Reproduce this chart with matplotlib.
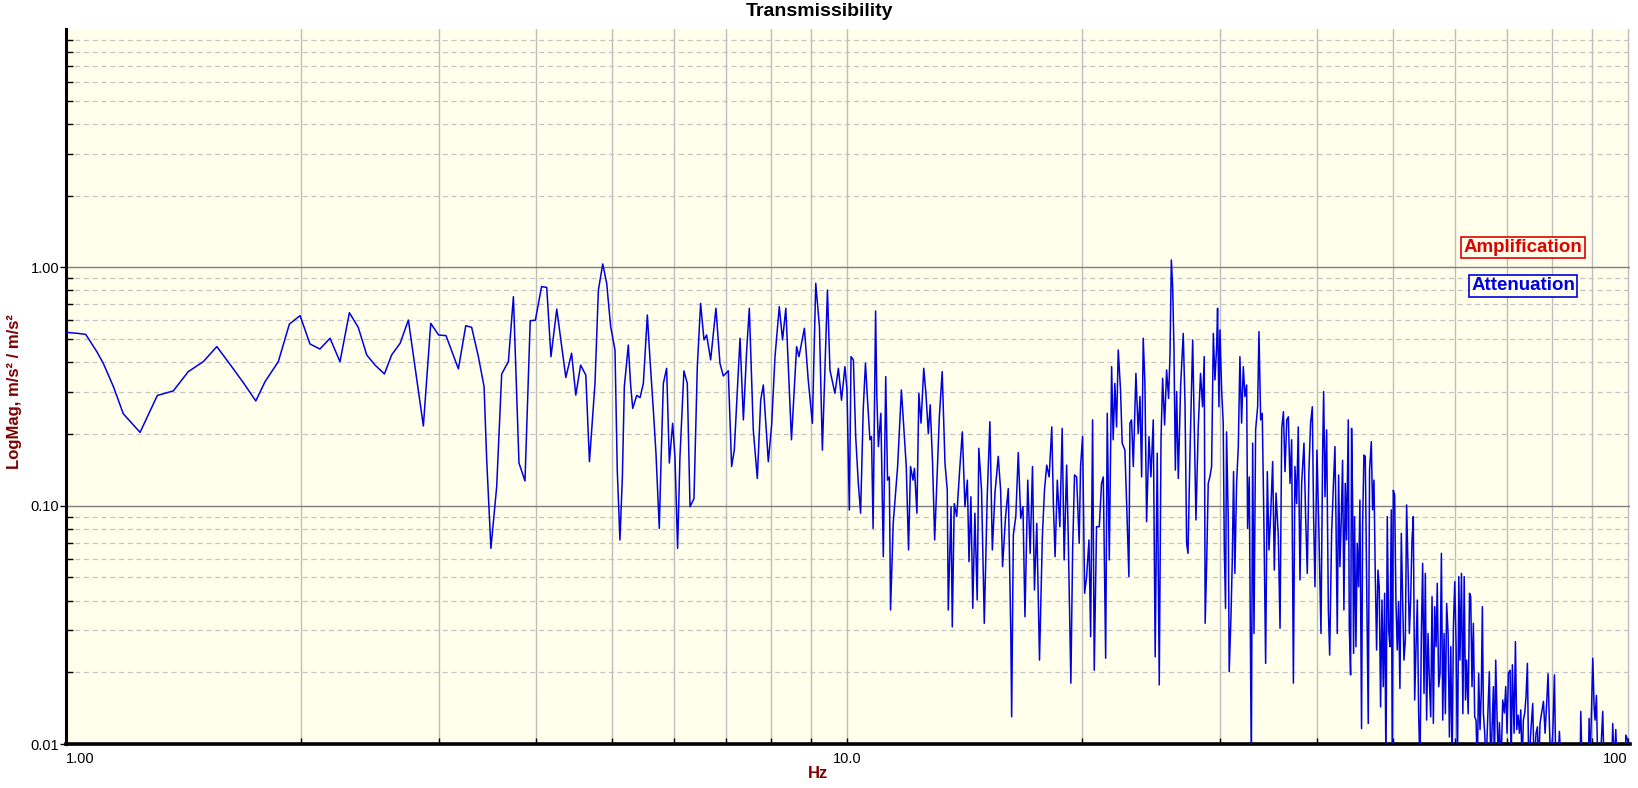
import matplotlib
matplotlib.use("Agg")
import matplotlib.pyplot as plt
from matplotlib.ticker import NullFormatter

plt.rcParams['font.family'] = ['Liberation Sans', 'DejaVu Sans']

# ---- data: (frequency Hz, transmissibility) ----
band_1_2hz = [(1.00, 0.534), (1.037, 0.528), (1.06, 0.523), (1.095, 0.443), (1.116, 0.396),
              (1.15, 0.316), (1.184, 0.243), (1.244, 0.203), (1.309, 0.290), (1.372, 0.303),
              (1.434, 0.365), (1.499, 0.402), (1.56, 0.465), (1.63, 0.383), (1.687, 0.328),
              (1.75, 0.275), (1.798, 0.331), (1.87, 0.402), (1.932, 0.578), (1.994, 0.627),
              (2.053, 0.477), (2.114, 0.454), (2.178, 0.504)]

band_2_5hz = [(2.243, 0.402), (2.306, 0.645), (2.367, 0.56), (2.427, 0.429), (2.487, 0.389),
              (2.557, 0.357), (2.612, 0.429), (2.678, 0.48), (2.744, 0.601), (2.806, 0.359),
              (2.868, 0.216), (2.931, 0.582), (3.0, 0.52), (3.066, 0.517), (3.18, 0.375),
              (3.25, 0.569), (3.307, 0.56), (3.373, 0.422), (3.43, 0.316), (3.457, 0.155),
              (3.5, 0.0662), (3.56, 0.12), (3.613, 0.357), (3.685, 0.402), (3.74, 0.753),
              (3.802, 0.151), (3.87, 0.127), (3.93, 0.597), (3.99, 0.6), (4.064, 0.83),
              (4.126, 0.824), (4.178, 0.422), (4.25, 0.668), (4.365, 0.345), (4.44, 0.436),
              (4.495, 0.291), (4.56, 0.389), (4.63, 0.353), (4.68, 0.153)]

band_5_10hz = [(4.757, 0.326), (4.805, 0.803), (4.867, 1.033), (4.924, 0.857), (4.982, 0.564),
               (5.046, 0.45), (5.08, 0.141), (5.12, 0.0718), (5.157, 0.132), (5.187, 0.316),
               (5.248, 0.472), (5.284, 0.321), (5.317, 0.256), (5.38, 0.29), (5.433, 0.284),
               (5.486, 0.326), (5.551, 0.631), (5.595, 0.409), (5.65, 0.252), (5.694, 0.166),
               (5.75, 0.0803), (5.779, 0.151), (5.819, 0.326), (5.876, 0.377), (5.923, 0.151),
               (5.981, 0.2216), (6.022, 0.16), (6.069, 0.0662), (6.111, 0.16), (6.183, 0.368),
               (6.245, 0.326), (6.295, 0.099), (6.369, 0.107), (6.432, 0.383), (6.495, 0.706),
               (6.56, 0.496), (6.611, 0.52), (6.69, 0.409), (6.795, 0.673), (6.876, 0.396),
               (6.944, 0.35), (7.047, 0.368), (7.117, 0.146), (7.173, 0.171), (7.295, 0.504),
               (7.368, 0.229), (7.44, 0.45), (7.498, 0.673), (7.586, 0.208), (7.677, 0.13),
               (7.754, 0.277), (7.814, 0.321), (7.93, 0.153), (8.008, 0.218), (8.088, 0.422),
               (8.19, 0.684), (8.27, 0.496), (8.35, 0.673), (8.49, 0.189), (8.62, 0.465),
               (8.68, 0.422), (8.82, 0.555), (8.92, 0.337), (9.03, 0.2216), (9.12, 0.857),
               (9.22, 0.564), (9.30, 0.171), (9.44, 0.803), (9.51, 0.371), (9.65, 0.296),
               (9.75, 0.377), (9.84, 0.277), (9.94, 0.383), (10.0, 0.306), (10.07, 0.0959)]

band_10_18hz = [(10.12, 0.422), (10.19, 0.409), (10.26, 0.195), (10.34, 0.124), (10.41, 0.093),
                (10.49, 0.252), (10.56, 0.396), (10.63, 0.269), (10.70, 0.189), (10.75, 0.195),
                (10.80, 0.0803), (10.88, 0.656), (10.92, 0.287), (10.97, 0.177), (11.05, 0.244),
                (11.13, 0.0611), (11.21, 0.348), (11.27, 0.128), (11.33, 0.132), (11.37, 0.0365),
                (11.46, 0.0843), (11.61, 0.146), (11.74, 0.306), (11.83, 0.208), (11.91, 0.146),
                (11.99, 0.0652), (12.06, 0.146), (12.15, 0.128), (12.20, 0.1435), (12.29, 0.093),
                (12.36, 0.296), (12.44, 0.222), (12.54, 0.377), (12.62, 0.296), (12.71, 0.201),
                (12.78, 0.265), (12.87, 0.151), (12.95, 0.0718), (13.13, 0.236), (13.24, 0.365),
                (13.35, 0.151), (13.44, 0.116), (13.48, 0.0365), (13.59, 0.099), (13.64, 0.031),
                (13.72, 0.102), (13.82, 0.09), (13.95, 0.146), (14.05, 0.204), (14.16, 0.099),
                (14.26, 0.128), (14.33, 0.0582), (14.41, 0.109), (14.49, 0.0371), (14.58, 0.093),
                (14.68, 0.0402), (14.75, 0.174), (14.87, 0.116), (14.99, 0.0321), (15.12, 0.109),
                (15.24, 0.225), (15.35, 0.0652), (15.47, 0.113), (15.62, 0.161), (15.73, 0.116),
                (15.82, 0.0555), (15.96, 0.09), (16.09, 0.118), (16.21, 0.0287), (16.25, 0.013),
                (16.33, 0.0753), (16.45, 0.09), (16.57, 0.167), (16.69, 0.0885), (16.80, 0.099),
                (16.90, 0.0342), (17.04, 0.128), (17.16, 0.0631), (17.28, 0.146), (17.38, 0.0443),
                (17.50, 0.0843), (17.64, 0.0225), (17.79, 0.0741), (17.90, 0.116), (18.02, 0.148),
                (18.15, 0.132), (18.29, 0.214), (18.38, 0.099), (18.47, 0.0611)]

band_18_29hz = [(18.59, 0.128), (18.73, 0.0816), (18.86, 0.211), (18.97, 0.0592), (19.11, 0.148),
                (19.2, 0.0741), (19.35, 0.018), (19.45, 0.0652), (19.56, 0.1345), (19.68, 0.132),
                (19.83, 0.0695), (19.91, 0.146), (20.03, 0.195), (20.15, 0.0429), (20.27, 0.0504),
                (20.41, 0.0718), (20.51, 0.0282), (20.63, 0.229), (20.73, 0.0204), (20.87, 0.0816),
                (21.04, 0.0816), (21.18, 0.124), (21.29, 0.132), (21.44, 0.0229), (21.54, 0.244),
                (21.67, 0.0592), (21.82, 0.383), (21.92, 0.189), (22.03, 0.326), (22.14, 0.214),
                (22.25, 0.45), (22.40, 0.306), (22.51, 0.183), (22.69, 0.171), (22.80, 0.1056),
                (22.96, 0.0504), (23.03, 0.222), (23.14, 0.229), (23.26, 0.146), (23.44, 0.359),
                (23.60, 0.201), (23.72, 0.287), (23.84, 0.132), (23.95, 0.504), (24.07, 0.326),
                (24.19, 0.0857), (24.36, 0.195), (24.50, 0.132), (24.67, 0.229), (24.81, 0.0232),
                (24.96, 0.166), (25.11, 0.0177), (25.24, 0.189), (25.36, 0.342), (25.51, 0.218),
                (25.66, 0.371), (25.81, 0.282), (25.92, 0.436), (26.02, 1.073), (26.12, 0.83),
                (26.22, 0.465), (26.33, 0.141), (26.43, 0.301), (26.56, 0.130), (26.74, 0.316),
                (26.95, 0.528), (27.09, 0.269), (27.22, 0.0695), (27.33, 0.0631), (27.49, 0.166),
                (27.71, 0.496), (27.84, 0.214), (27.98, 0.0871), (28.17, 0.214), (28.36, 0.359),
                (28.53, 0.260), (28.67, 0.422), (28.75, 0.0321), (28.87, 0.0555), (29.01, 0.124),
                (29.15, 0.132)]

band_29_42hz = [(29.30, 0.146), (29.45, 0.528), (29.59, 0.337), (29.74, 0.465), (29.82, 0.673),
                (29.94, 0.26), (30.03, 0.546), (30.18, 0.306), (30.32, 0.222), (30.42, 0.0652),
                (30.53, 0.0371), (30.62, 0.204), (30.78, 0.0843), (30.86, 0.0201), (31.02, 0.0342),
                (31.14, 0.0582), (31.26, 0.139), (31.38, 0.052), (31.54, 0.124), (31.70, 0.177),
                (31.85, 0.422), (32.01, 0.222), (32.17, 0.383), (32.33, 0.287), (32.49, 0.321),
                (32.58, 0.0803), (32.74, 0.132), (32.94, 0.008), (33.07, 0.183), (33.20, 0.0291),
                (33.36, 0.208), (33.56, 0.26), (33.69, 0.537), (33.86, 0.229), (34.02, 0.244),
                (34.19, 0.0816), (34.36, 0.0218), (34.53, 0.139), (34.70, 0.0652), (34.88, 0.093),
                (35.08, 0.153), (35.25, 0.0537), (35.43, 0.113), (35.67, 0.0741), (35.85, 0.0306),
                (36.03, 0.211), (36.21, 0.248), (36.38, 0.139), (36.57, 0.229), (36.74, 0.236),
                (36.92, 0.124), (37.10, 0.189), (37.29, 0.018), (37.46, 0.146), (37.65, 0.102),
                (37.83, 0.214), (38.02, 0.0488), (38.21, 0.124), (38.47, 0.183), (38.66, 0.09),
                (38.85, 0.052), (39.04, 0.141), (39.23, 0.222), (39.43, 0.26), (39.58, 0.09),
                (39.74, 0.0457), (39.97, 0.171), (40.21, 0.0765), (40.45, 0.0291), (40.65, 0.171),
                (40.77, 0.301), (40.93, 0.109), (41.13, 0.208), (41.34, 0.0365), (41.50, 0.0236),
                (41.74, 0.0765), (41.95, 0.12), (42.15, 0.177)]

band_42_63hz = [(42.27, 0.0929), (42.44, 0.0291), (42.61, 0.1345), (42.77, 0.0555), (42.94, 0.0871),
                (43.11, 0.155), (43.28, 0.0365), (43.45, 0.124), (43.62, 0.0718), (43.84, 0.229),
                (43.97, 0.0311), (44.14, 0.0195), (44.27, 0.211), (44.40, 0.1056), (44.53, 0.024),
                (44.66, 0.09), (44.84, 0.0256), (45.01, 0.0695), (45.19, 0.0457), (45.37, 0.1056),
                (45.59, 0.0116), (45.73, 0.0816), (45.91, 0.163), (46.09, 0.161), (46.27, 0.052),
                (46.50, 0.0122), (46.68, 0.141), (46.92, 0.1856), (47.10, 0.096), (47.29, 0.128),
                (47.47, 0.052), (47.66, 0.0248), (47.85, 0.0537), (48.03, 0.0457), (48.22, 0.0143),
                (48.42, 0.0402), (48.60, 0.0174), (48.80, 0.0429), (48.99, 0.008), (49.18, 0.09),
                (49.38, 0.0301), (49.57, 0.0256), (49.77, 0.096), (49.91, 0.008), (50.06, 0.116),
                (50.26, 0.111), (50.45, 0.0402), (50.65, 0.0248), (50.85, 0.0396), (51.05, 0.0171),
                (51.26, 0.0765), (51.46, 0.0402), (51.66, 0.0225), (51.87, 0.0273), (52.07, 0.1007),
                (52.28, 0.0555), (52.49, 0.0291), (52.69, 0.0402), (52.90, 0.0718), (53.10, 0.09),
                (53.32, 0.0153), (53.53, 0.0256), (53.74, 0.0402), (53.95, 0.0134), (54.16, 0.008),
                (54.38, 0.0291), (54.59, 0.0573), (54.81, 0.0163), (55.02, 0.052), (55.23, 0.0126),
                (55.46, 0.0291), (55.68, 0.0186), (55.90, 0.013), (56.12, 0.0415), (56.34, 0.0122),
                (56.56, 0.0377), (56.79, 0.0256), (56.99, 0.0472), (57.23, 0.0174), (57.46, 0.0198),
                (57.69, 0.0631), (57.92, 0.0126), (58.15, 0.0291), (58.37, 0.0134), (58.59, 0.0389),
                (58.84, 0.0291), (59.07, 0.0107), (59.31, 0.0256), (59.54, 0.008), (59.77, 0.0311),
                (60.01, 0.048), (60.25, 0.0256), (60.49, 0.008), (60.73, 0.0504), (60.93, 0.0225),
                (61.21, 0.052), (61.46, 0.0134), (61.70, 0.0504), (61.94, 0.0153), (62.15, 0.0225),
                (62.43, 0.0134), (62.68, 0.0429)]

band_63_101hz = [(62.90, 0.0415), (63.14, 0.0174), (63.39, 0.0321), (63.64, 0.013), (63.89, 0.0126),
                 (64.14, 0.008), (64.39, 0.0198), (64.65, 0.0115), (64.90, 0.0169), (65.10, 0.0377),
                 (65.29, 0.0135), (65.55, 0.0111), (65.80, 0.008), (66.06, 0.0115), (66.45, 0.0201),
                 (66.72, 0.008), (66.98, 0.0115), (67.25, 0.0174), (67.44, 0.008), (67.71, 0.0225),
                 (67.98, 0.013), (68.25, 0.008), (68.45, 0.0123), (68.79, 0.008), (69.12, 0.0153),
                 (69.46, 0.0135), (69.74, 0.0174), (70.01, 0.0111), (70.29, 0.0198), (70.64, 0.0204),
                 (70.85, 0.008), (71.12, 0.0215), (71.48, 0.0111), (71.76, 0.0269), (72.04, 0.0115),
                 (72.33, 0.0132), (72.62, 0.0111), (72.90, 0.0139), (73.19, 0.008), (73.46, 0.0126),
                 (73.76, 0.0135), (74.04, 0.0158), (74.34, 0.0218), (74.63, 0.008), (75.07, 0.0111),
                 (75.52, 0.0148), (75.82, 0.008), (76.26, 0.0111), (76.57, 0.0118), (76.86, 0.008),
                 (77.16, 0.0122), (77.54, 0.0135), (77.94, 0.0151), (78.32, 0.0111), (78.71, 0.0151),
                 (79.01, 0.0197), (79.32, 0.0122), (79.64, 0.008), (80.12, 0.0111), (80.51, 0.0195),
                 (80.83, 0.008), (81.30, 0.008), (81.70, 0.0113), (82.11, 0.008), (82.66, 0.008),
                 (86.84, 0.008), (87.01, 0.0137), (87.35, 0.008), (88.99, 0.008), (89.17, 0.0128),
                 (89.43, 0.008), (90.14, 0.0229), (90.50, 0.0143), (90.76, 0.0126), (91.12, 0.016),
                 (91.48, 0.008), (92.11, 0.008), (92.83, 0.0137), (93.19, 0.008), (95.33, 0.008),
                 (95.61, 0.0122), (96.00, 0.008), (96.47, 0.0115), (96.85, 0.008), (99.18, 0.008),
                 (99.37, 0.0109), (99.86, 0.0104), (100.64, 0.008)]

bands = [band_1_2hz, band_2_5hz, band_5_10hz, band_10_18hz, band_18_29hz,
         band_29_42hz, band_42_63hz, band_63_101hz]

x_ticks = [1, 10, 100]
x_tick_labels = ['1.00', '10.0', '100']
y_ticks = [0.01, 0.1, 1]
y_tick_labels = ['0.01', '0.10', '1.00']

freqs = [p[0] for b in bands for p in b]
mags = [p[1] for b in bands for p in b]

# ---- figure ----
W, H = 1638, 788
fig = plt.figure(figsize=(W / 100, H / 100), dpi=100)
fig.patch.set_facecolor('white')
L, R, T, B = 66, 1630, 29, 744
ax = fig.add_axes([L / W, 1 - B / H, (R - L) / W, (B - T) / H])
bg = '#FFFFEB'
ax.set_facecolor(bg)
ax.set_xscale('log')
ax.set_yscale('log')

ax.plot(freqs, mags, color='#0000E0', lw=1.1, zorder=3)

ax.set_xlim(1, 100.6)
ax.set_ylim(0.01, 10)

ax.set_xticks(x_ticks)
ax.set_xticklabels(x_tick_labels)
ax.set_xticks([k * 10 ** e for e in (0, 1) for k in range(2, 10)], minor=True)
ax.xaxis.set_minor_formatter(NullFormatter())
ax.set_yticks(y_ticks)
ax.set_yticklabels(y_tick_labels)
ax.set_yticks([k * 10.0 ** e for e in (-2, -1, 0) for k in range(2, 10)], minor=True)
ax.yaxis.set_minor_formatter(NullFormatter())

labs = ax.get_xticklabels()
labs[0].set_ha('left')
labs[-1].set_ha('right')

ax.set_axisbelow(True)
ax.grid(which='major', axis='y', color='#7F7F7F', lw=1.0, ls='-')
ax.grid(which='minor', axis='y', color='#C4C4C4', lw=0.9, ls=(0, (4, 3)))
ax.grid(which='both', axis='x', color='#BDBDBD', lw=1.0, ls='-')

for s in ('top', 'right'):
    ax.spines[s].set_visible(False)
ax.spines['left'].set_linewidth(2.2)
ax.spines['bottom'].set_linewidth(2.6)
ax.spines['left'].set_color('black')
ax.spines['bottom'].set_color('black')

ax.tick_params(axis='y', which='major', direction='out', length=4, width=1,
               labelsize=10.5, pad=1, colors='black')
ax.tick_params(axis='y', which='minor', direction='in', length=5, width=1, colors='black')
ax.tick_params(axis='x', which='both', direction='in', length=4, width=1,
               labelsize=10.5, pad=6, colors='black')

# title and axis labels
fig.text(0.5006, 1 - 11 / H, 'Transmissibility', ha='center', va='center',
         fontsize=14, fontweight='bold', color='black')
fig.text(818 / W, 1 - 774 / H, 'Hz', ha='center', va='center',
         fontsize=12, fontweight='bold', color='#800000')
fig.text(15 / W, 1 - 392 / H, 'LogMag, m/s² / m/s²', ha='center', va='center',
         rotation=90, fontsize=12, fontweight='bold', color='#800000')

# annotation boxes
ax.text(0.9316, 0.6944, 'Amplification', transform=ax.transAxes, ha='center', va='center',
        fontsize=13.5, fontweight='bold', color='#E00000', zorder=5,
        bbox=dict(boxstyle='square,pad=0.12', fc=bg, ec='#E00000', lw=1.2))
ax.text(0.9316, 0.6406, 'Attenuation', transform=ax.transAxes, ha='center', va='center',
        fontsize=13.5, fontweight='bold', color='#0000E0', zorder=5,
        bbox=dict(boxstyle='square,pad=0.12', fc=bg, ec='#0000E0', lw=1.2))

fig.savefig('out.png', dpi=100, facecolor='white')
